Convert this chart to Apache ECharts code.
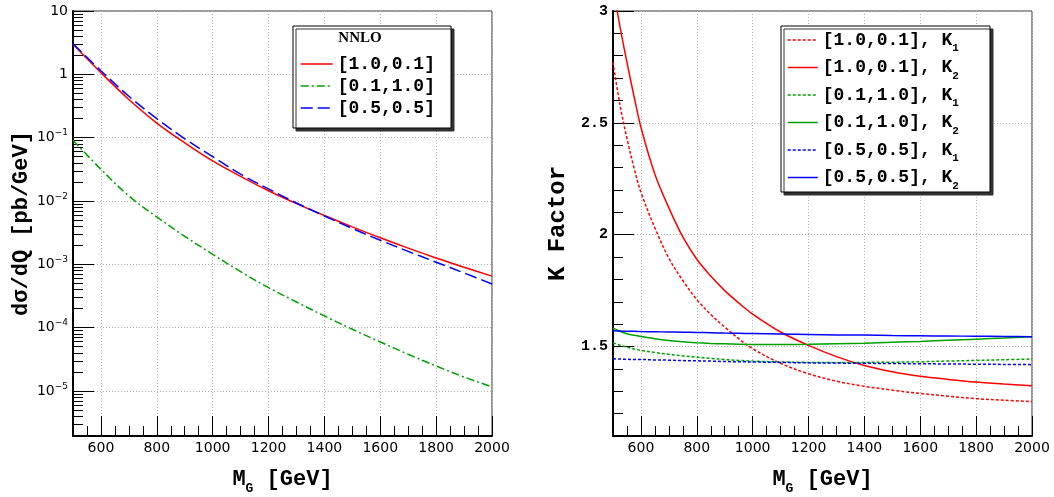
<!DOCTYPE html>
<html>
<head>
<meta charset="utf-8">
<script src="https://cdn.jsdelivr.net/npm/echarts@6/dist/echarts.min.js"></script>
<style>
  html, body { margin: 0; padding: 0; background: #ffffff; }
  #chart { width: 1054px; height: 497px; }
</style>
</head>
<body>
<div id="chart"></div>
<script>
// ---- Cross sections dσ/dQ (pb/GeV) vs graviton mass ----
const massLeft = [500, 600, 700, 800, 900, 1000, 1100, 1200, 1300, 1400, 1500, 1600, 1700, 1800, 1900, 2000];
const sigma_10_01 = [2.98, 1.06, 0.40, 0.17, 0.083, 0.043, 0.0245, 0.0145, 0.0091, 0.0059, 0.0039, 0.00262, 0.00180, 0.00126, 0.00090, 0.00065];
const sigma_01_10 = [0.091, 0.0316, 0.012, 0.0056, 0.00277, 0.00144, 0.000766, 0.000428, 0.000254, 0.000153, 0.0000942, 0.0000594, 0.000038, 0.0000248, 0.0000166, 0.0000116];
const sigma_05_05 = [3.05, 1.14, 0.45, 0.20, 0.096, 0.050, 0.0265, 0.0155, 0.0093, 0.0058, 0.00368, 0.00240, 0.00160, 0.00108, 0.00073, 0.00049];

// ---- K factors vs graviton mass ----
const massRight = [500, 525, 550, 575, 600, 650, 700, 750, 800, 850, 900, 950, 1000, 1100, 1200, 1300, 1400, 1500, 1600, 1700, 1800, 1900, 2000];
const k1_10_01 = [2.77, 2.58, 2.43, 2.30, 2.19, 2.03, 1.895, 1.795, 1.71, 1.643, 1.587, 1.535, 1.49, 1.425, 1.378, 1.345, 1.322, 1.305, 1.290, 1.278, 1.267, 1.260, 1.254];
const k2_10_01 = [3.11, 2.93, 2.77, 2.62, 2.48, 2.27, 2.12, 1.99, 1.89, 1.815, 1.75, 1.695, 1.645, 1.565, 1.505, 1.455, 1.415, 1.387, 1.367, 1.353, 1.341, 1.332, 1.325];
const k1_01_10 = [1.516, 1.506, 1.497, 1.489, 1.483, 1.473, 1.465, 1.458, 1.452, 1.447, 1.442, 1.438, 1.435, 1.431, 1.429, 1.428, 1.429, 1.430, 1.432, 1.435, 1.438, 1.441, 1.444];
const k2_01_10 = [1.582, 1.568, 1.557, 1.550, 1.545, 1.535, 1.527, 1.521, 1.517, 1.514, 1.512, 1.510, 1.509, 1.509, 1.510, 1.512, 1.515, 1.519, 1.523, 1.528, 1.533, 1.538, 1.544];
const k1_05_05 = [1.445, 1.444, 1.443, 1.442, 1.442, 1.440, 1.439, 1.437, 1.436, 1.435, 1.433, 1.432, 1.431, 1.429, 1.427, 1.426, 1.425, 1.424, 1.423, 1.422, 1.421, 1.420, 1.419];
const k2_05_05 = [1.570, 1.569, 1.568, 1.568, 1.567, 1.566, 1.565, 1.564, 1.563, 1.562, 1.560, 1.559, 1.558, 1.556, 1.554, 1.552, 1.551, 1.549, 1.548, 1.547, 1.546, 1.545, 1.544];

// ---- Labels and tick values ----
const couplings = ['[1.0,0.1]', '[0.1,1.0]', '[0.5,0.5]'];
const massTicks = [600, 800, 1000, 1200, 1400, 1600, 1800, 2000];
const massMinorTicks = [550, 650, 700, 750, 850, 900, 950, 1050, 1100, 1150, 1250, 1300, 1350, 1450, 1500, 1550, 1650, 1700, 1750, 1850, 1900, 1950];
const sigmaTicks = [1e-5, 1e-4, 1e-3, 1e-2, 1e-1, 1, 10];
const kTicks = [1.5, 2, 2.5, 3];
const kMinorTicks = [1.2, 1.3, 1.4, 1.6, 1.7, 1.8, 1.9, 2.1, 2.2, 2.3, 2.4, 2.6, 2.7, 2.8, 2.9];

// minor log ticks: 2..9 x 10^n inside the plotted range
const sigmaMin = 1.945e-6, sigmaMax = 10;
const sigmaMinorTicks = [];
for (let e = -6; e <= 0; e++) {
  for (let m = 2; m <= 9; m++) {
    const v = m * Math.pow(10, e);
    if (v >= sigmaMin && v <= sigmaMax) sigmaMinorTicks.push(v);
  }
}

const RED = '#ff0000', GREEN = '#00a000', BLUE = '#0000ff';
const MONO = '"Liberation Mono", "Courier New", monospace';
const SANS = '"DejaVu Sans", sans-serif';

const pairs = (xs, ys) => xs.map((x, i) => [x, ys[i]]);

const gridLine = { show: true, lineStyle: { color: '#b4b4b4', width: 1, type: [1, 2] } };

function massAxis(gridIndex) {
  return {
    type: 'value', gridIndex, min: 500, max: 2000, position: 'bottom',
    axisLine: { show: true, onZero: false, lineStyle: { color: '#000', width: 2 } },
    axisTick: { show: true, inside: true, length: 20, customValues: massTicks, lineStyle: { color: '#000', width: 1 } },
    axisLabel: { show: true, customValues: massTicks, formatter: v => String(v), fontFamily: SANS, fontSize: 14, color: '#000', margin: 5 },
    splitLine: gridLine,
    name: 'M{sub|G} [GeV]', nameLocation: 'middle', nameGap: 28,
    nameTextStyle: {
      fontFamily: MONO, fontWeight: 'bold', fontSize: 22, color: '#000', lineHeight: 31,
      rich: { sub: { fontFamily: MONO, fontWeight: 'bold', fontSize: 13, color: '#000', verticalAlign: 'bottom', lineHeight: 31 } }
    }
  };
}
function massMinorAxis(gridIndex) {
  return {
    type: 'value', gridIndex, min: 500, max: 2000, position: 'bottom',
    axisLine: { show: false },
    axisTick: { show: true, inside: true, length: 10, customValues: massMinorTicks, lineStyle: { color: '#000', width: 1 } },
    axisLabel: { show: false }, splitLine: { show: false }
  };
}

function sigmaLabel(v) {
  const e = Math.round(Math.log10(v));
  if (e === 0) return '1';
  if (e === 1) return '10';
  return '10{sup|' + (e < 0 ? '\u2212' : '') + Math.abs(e) + '}';
}

const lineOpts = { symbol: 'none', smooth: 0.35 };

const option = {
  animation: false,
  backgroundColor: '#ffffff',
  grid: [
    { left: 73, top: 11, width: 419, height: 425, show: true, borderColor: '#333', borderWidth: 1, backgroundColor: 'transparent', outerBoundsMode: 'none' },
    { left: 613, top: 11, width: 419, height: 425, show: true, borderColor: '#333', borderWidth: 1, backgroundColor: 'transparent', outerBoundsMode: 'none' }
  ],
  xAxis: [massAxis(0), massMinorAxis(0), massAxis(1), massMinorAxis(1)],
  yAxis: [
    {
      type: 'log', logBase: 10, gridIndex: 0, min: sigmaMin, max: sigmaMax, position: 'left',
      axisLine: { show: true, onZero: false, lineStyle: { color: '#000', width: 2 } },
      axisTick: { show: true, inside: true, length: 21, customValues: sigmaTicks, lineStyle: { color: '#000', width: 1 } },
      axisLabel: {
        show: true, customValues: sigmaTicks, formatter: sigmaLabel,
        fontFamily: SANS, fontSize: 14, color: '#000', margin: 5, lineHeight: 18,
        rich: { sup: { fontFamily: SANS, fontSize: 9, color: '#000', verticalAlign: 'top', lineHeight: 9 } }
      },
      splitLine: gridLine,
      name: 'dσ/dQ [pb/GeV]', nameLocation: 'middle', nameGap: 41,
      nameTextStyle: { fontFamily: MONO, fontWeight: 'bold', fontSize: 22, color: '#000' }
    },
    {
      type: 'log', logBase: 10, gridIndex: 0, min: sigmaMin, max: sigmaMax, position: 'left',
      axisLine: { show: false },
      axisTick: { show: true, inside: true, length: 10, customValues: sigmaMinorTicks, lineStyle: { color: '#000', width: 1 } },
      axisLabel: { show: false }, splitLine: { show: false }
    },
    {
      type: 'value', gridIndex: 1, min: 1.1, max: 3, position: 'left',
      axisLine: { show: true, onZero: false, lineStyle: { color: '#000', width: 2 } },
      axisTick: { show: true, inside: true, length: 21, customValues: kTicks, lineStyle: { color: '#000', width: 1 } },
      axisLabel: { show: true, customValues: kTicks, fontFamily: MONO, fontWeight: 'bold', fontSize: 15, color: '#000', margin: 5 },
      splitLine: gridLine,
      name: 'K Factor', nameLocation: 'middle', nameGap: 43,
      nameTextStyle: { fontFamily: MONO, fontWeight: 'bold', fontSize: 24, color: '#000' }
    },
    {
      type: 'value', gridIndex: 1, min: 1.1, max: 3, position: 'left',
      axisLine: { show: false },
      axisTick: { show: true, inside: true, length: 10, customValues: kMinorTicks, lineStyle: { color: '#000', width: 1 } },
      axisLabel: { show: false }, splitLine: { show: false }
    }
  ],
  legend: [
    {
      data: couplings, orient: 'vertical', left: 293, top: 26, padding: [29, 0, 0, 7],
      itemWidth: 32, itemHeight: 20, itemGap: 4, selectedMode: false,
      itemStyle: { opacity: 0 }, lineStyle: { width: 1.5 },
      textStyle: { fontFamily: MONO, fontWeight: 'bold', fontSize: 18, color: '#000' }
    },
    {
      data: couplings.flatMap(c => [c + ', K1', c + ', K2']),
      orient: 'vertical', left: 781, top: 26, padding: [0, 0, 0, 6],
      itemWidth: 30, itemHeight: 22, itemGap: -0.5, selectedMode: false,
      itemStyle: { opacity: 0 }, lineStyle: { width: 1.5 },
      formatter: name => name.replace(/K(\d)$/, 'K{sub|$1}'),
      textStyle: {
        fontFamily: MONO, fontWeight: 'bold', fontSize: 18, color: '#000', lineHeight: 28,
        rich: { sub: { fontFamily: MONO, fontWeight: 'bold', fontSize: 11, color: '#000', verticalAlign: 'bottom', lineHeight: 28 } }
      }
    }
  ],
  graphic: [
    { type: 'rect', z: 3, shape: { x: 293, y: 26, width: 158, height: 102 },
      style: { fill: '#fff', stroke: '#000', lineWidth: 1, shadowColor: '#333', shadowOffsetX: 3, shadowOffsetY: 3, shadowBlur: 0 } },
    { type: 'text', z: 5, style: { text: 'NNLO', x: 360, y: 38, align: 'center', verticalAlign: 'middle', font: 'bold 15px "Liberation Serif", serif', fill: '#000' } },
    { type: 'rect', z: 3, shape: { x: 781, y: 26, width: 209, height: 166 },
      style: { fill: '#fff', stroke: '#000', lineWidth: 1, shadowColor: '#333', shadowOffsetX: 3, shadowOffsetY: 3, shadowBlur: 0 } }
  ],
  series: [
    Object.assign({ name: couplings[0], type: 'line', xAxisIndex: 0, yAxisIndex: 0, data: pairs(massLeft, sigma_10_01),
      lineStyle: { color: RED, width: 1.5 }, itemStyle: { color: RED } }, lineOpts),
    Object.assign({ name: couplings[1], type: 'line', xAxisIndex: 0, yAxisIndex: 0, data: pairs(massLeft, sigma_01_10),
      lineStyle: { color: GREEN, width: 1.5, type: [8, 3, 2, 3] }, itemStyle: { color: GREEN } }, lineOpts),
    Object.assign({ name: couplings[2], type: 'line', xAxisIndex: 0, yAxisIndex: 0, data: pairs(massLeft, sigma_05_05),
      lineStyle: { color: BLUE, width: 1.5, type: [12, 5] }, itemStyle: { color: BLUE } }, lineOpts),

    Object.assign({ name: couplings[0] + ', K1', type: 'line', xAxisIndex: 2, yAxisIndex: 2, data: pairs(massRight, k1_10_01),
      lineStyle: { color: RED, width: 1.5, type: [3, 2] }, itemStyle: { color: RED } }, lineOpts),
    Object.assign({ name: couplings[0] + ', K2', type: 'line', xAxisIndex: 2, yAxisIndex: 2, data: pairs(massRight, k2_10_01),
      lineStyle: { color: RED, width: 1.5 }, itemStyle: { color: RED } }, lineOpts),
    Object.assign({ name: couplings[1] + ', K1', type: 'line', xAxisIndex: 2, yAxisIndex: 2, data: pairs(massRight, k1_01_10),
      lineStyle: { color: GREEN, width: 1.5, type: [3, 2] }, itemStyle: { color: GREEN } }, lineOpts),
    Object.assign({ name: couplings[1] + ', K2', type: 'line', xAxisIndex: 2, yAxisIndex: 2, data: pairs(massRight, k2_01_10),
      lineStyle: { color: GREEN, width: 1.5 }, itemStyle: { color: GREEN } }, lineOpts),
    Object.assign({ name: couplings[2] + ', K1', type: 'line', xAxisIndex: 2, yAxisIndex: 2, data: pairs(massRight, k1_05_05),
      lineStyle: { color: BLUE, width: 1.5, type: [3, 2] }, itemStyle: { color: BLUE } }, lineOpts),
    Object.assign({ name: couplings[2] + ', K2', type: 'line', xAxisIndex: 2, yAxisIndex: 2, data: pairs(massRight, k2_05_05),
      lineStyle: { color: BLUE, width: 1.5 }, itemStyle: { color: BLUE } }, lineOpts)
  ]
};

const chart = echarts.init(document.getElementById('chart'), null, { renderer: 'canvas' });
chart.setOption(option);
</script>
</body>
</html>
